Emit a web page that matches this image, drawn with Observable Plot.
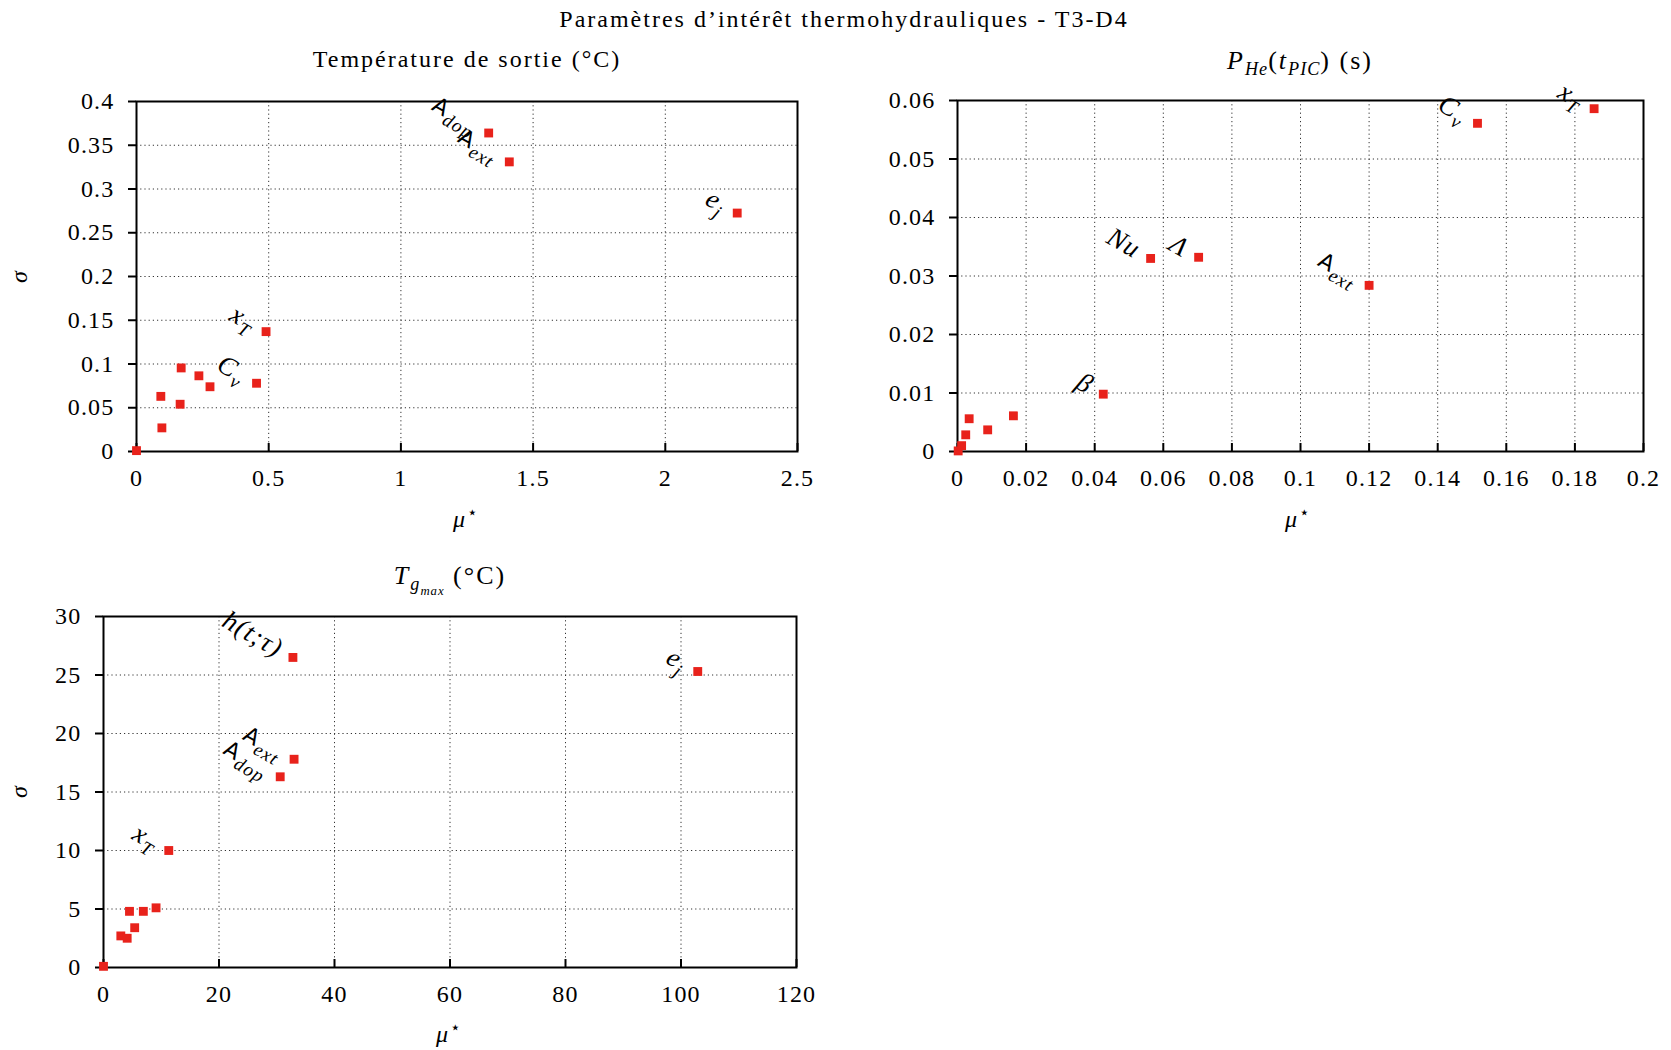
<!DOCTYPE html>
<html>
<head>
<meta charset="utf-8">
<script src="https://cdn.jsdelivr.net/npm/d3@7"></script>
<script src="https://cdn.jsdelivr.net/npm/@observablehq/plot@0.6"></script>
<style>
  html, body { margin: 0; padding: 0; background: #fff; }
  body { width: 1671px; height: 1050px; position: relative; overflow: hidden;
         font-family: "Liberation Serif", "DejaVu Serif", serif; color: #000; }
  .t { position: absolute; transform: translate(-50%, -50%); white-space: nowrap; line-height: 1;
       font-size: 24px; letter-spacing: 2px; }
  .big { font-size: 26px; }
  .rot { transform: translate(-50%, -50%) rotate(-90deg); }
  .i { font-style: italic; }
  sub, sup { font-size: 70%; line-height: 0; letter-spacing: 1px; }
  .panel { position: absolute; }
  .panel svg { overflow: visible; font-family: "Liberation Serif", "DejaVu Serif", serif !important; }
  .panel svg text { font-family: "Liberation Serif", "DejaVu Serif", serif; }
</style>
</head>
<body>
<script>
// ---------- Data ----------
// Panel 1 : Température de sortie (°C)
const mu1    = [0, 0.096, 0.092, 0.169, 0.165, 0.236, 0.278, 0.454, 0.490, 1.332, 1.410, 2.272];
const sigma1 = [0.001, 0.027, 0.063, 0.0955, 0.054, 0.0865, 0.074, 0.078, 0.137, 0.364, 0.331, 0.2725];
const labels1 = ["", "", "", "", "", "", "", "C_v", "x_T", "A_dop", "A_ext", "e_j"];
const xTicks1 = [0, 0.5, 1, 1.5, 2, 2.5];
const yTicks1 = [0, 0.05, 0.1, 0.15, 0.2, 0.25, 0.3, 0.35, 0.4];

// Panel 2 : P_He(t_PIC) (s)
const mu2    = [0.0002, 0.0012, 0.0024, 0.0034, 0.0088, 0.0163, 0.0425, 0.0563, 0.0703, 0.120, 0.1516, 0.1856];
const sigma2 = [0.0001, 0.0010, 0.00285, 0.0056, 0.0037, 0.0061, 0.0098, 0.0330, 0.0332, 0.0284, 0.0561, 0.0586];
const labels2 = ["", "", "", "", "", "", "β", "Nu", "Λ", "A_ext", "C_v", "x_T"];
const xTicks2 = [0, 0.02, 0.04, 0.06, 0.08, 0.1, 0.12, 0.14, 0.16, 0.18, 0.2];
const yTicks2 = [0, 0.01, 0.02, 0.03, 0.04, 0.05, 0.06];

// Panel 3 : T_gmax (°C)
const mu3    = [0, 3.0, 4.1, 4.5, 5.4, 6.9, 9.1, 11.3, 30.6, 33.0, 32.8, 102.9];
const sigma3 = [0.1, 2.7, 2.5, 4.8, 3.4, 4.8, 5.1, 10.0, 16.3, 17.8, 26.5, 25.3];
const labels3 = ["", "", "", "", "", "", "", "x_T", "A_dop", "A_ext", "h(t;τ)", "e_j"];
const xTicks3 = [0, 20, 40, 60, 80, 100, 120];
const yTicks3 = [0, 5, 10, 15, 20, 25, 30];

// ---------- Drawing ----------
const FONT = "'Liberation Serif', 'DejaVu Serif', serif";
const RED = "#e8221b";
const fmt = d => String(+d.toFixed(4));

function makePanel(mu, sigma, labels, xTicks, yTicks, box) {
  const data = mu.map((m, i) => ({mu: m, sigma: sigma[i], label: labels[i]}));
  const innerH = box.height - box.mt - box.mb;
  const svg = Plot.plot({
    width: box.width, height: box.height,
    marginLeft: box.ml, marginRight: box.mr, marginTop: box.mt, marginBottom: box.mb,
    style: `font-family: ${FONT}; font-size: 24px; color: #000; background: transparent; overflow: visible; letter-spacing: 1.2px;`,
    x: {domain: [xTicks[0], xTicks[xTicks.length - 1]]},
    y: {domain: [yTicks[0], yTicks[yTicks.length - 1]]},
    marks: [
      Plot.gridX(xTicks, {stroke: "#333", strokeOpacity: 1, strokeWidth: 1, strokeDasharray: "1.2,3"}),
      Plot.gridY(yTicks, {stroke: "#333", strokeOpacity: 1, strokeWidth: 1, strokeDasharray: "1.2,3"}),
      Plot.tickX(xTicks, {x: d => d, insetTop: innerH - 8, stroke: "#000", strokeWidth: 2}),
      Plot.axisY(yTicks, {tickSize: 8, tickPadding: 14, strokeWidth: 2, tickFormat: fmt, label: null, fontSize: 24, fontFamily: FONT}),
      Plot.axisX(xTicks, {tickSize: 0, tickPadding: 17, tickFormat: fmt, label: null, fontSize: 24, fontFamily: FONT}),
      Plot.frame({stroke: "#000", strokeWidth: 2}),
      Plot.dot(data, {x: "mu", y: "sigma", symbol: "square", r: 5, fill: RED, stroke: null}),
      Plot.text(data.filter(d => d.label), {
        x: "mu", y: "sigma", text: "label", rotate: 30, textAnchor: "end", lineAnchor: "middle",
        dx: -12, dy: -7, fontSize: 27, fontStyle: "italic", fill: "#000", fontFamily: FONT
      })
    ]
  });
  svg.style.fontFamily = FONT;
  // subscripts and upright sans "A" in the point labels
  const ns = "http://www.w3.org/2000/svg";
  svg.querySelectorAll('g[aria-label="text"] text').forEach(t => {
    const parts = t.textContent.split("_");
    t.textContent = "";
    const main = document.createElementNS(ns, "tspan");
    main.textContent = parts[0];
    if (parts[0] === "A") {
      main.setAttribute("font-family", "'DejaVu Sans', sans-serif");
      main.setAttribute("font-style", "normal");
      main.setAttribute("font-size", "22");
    }
    t.appendChild(main);
    if (parts.length > 1) {
      const sub = document.createElementNS(ns, "tspan");
      sub.textContent = parts[1];
      sub.setAttribute("font-size", "19");
      sub.setAttribute("dy", "7");
      t.appendChild(sub);
    }
  });
  const div = document.createElement("div");
  div.className = "panel";
  div.style.left = box.left + "px";
  div.style.top = box.top + "px";
  div.appendChild(svg);
  document.body.appendChild(div);
}

makePanel(mu1, sigma1, labels1, xTicks1, yTicks1,
  {left: 0, top: 70, width: 830, height: 420, ml: 136, mr: 33, mt: 31, mb: 39});
makePanel(mu2, sigma2, labels2, xTicks2, yTicks2,
  {left: 840, top: 70, width: 830, height: 420, ml: 117, mr: 27, mt: 30, mb: 39});
makePanel(mu3, sigma3, labels3, xTicks3, yTicks3,
  {left: 0, top: 585, width: 830, height: 420, ml: 103, mr: 34, mt: 31, mb: 38});

// ---------- Texts ----------
function addText(html, x, y, cls) {
  const d = document.createElement("div");
  d.className = "t" + (cls ? " " + cls : "");
  d.style.left = x + "px";
  d.style.top = y + "px";
  d.innerHTML = html;
  document.body.appendChild(d);
}
addText("Paramètres d’intérêt thermohydrauliques - T3-D4", 844, 19);
addText("Température de sortie (°C)", 467, 59);
addText('<span class="i">P<sub>He</sub></span>(<span class="i">t<sub>PIC</sub></span>) (s)', 1300, 61, "big");
addText('<span class="i">T<sub>g<sub>max</sub></sub></span> (°C)', 450, 577, "big");
addText('<span class="i">σ</span>', 19, 276, "rot");
addText('<span class="i">σ</span>', 19, 791, "rot");
addText('<span class="i">μ</span><sup>⋆</sup>', 466, 519);
addText('<span class="i">μ</span><sup>⋆</sup>', 1298, 519);
addText('<span class="i">μ</span><sup>⋆</sup>', 449, 1034);
</script>
</body>
</html>
